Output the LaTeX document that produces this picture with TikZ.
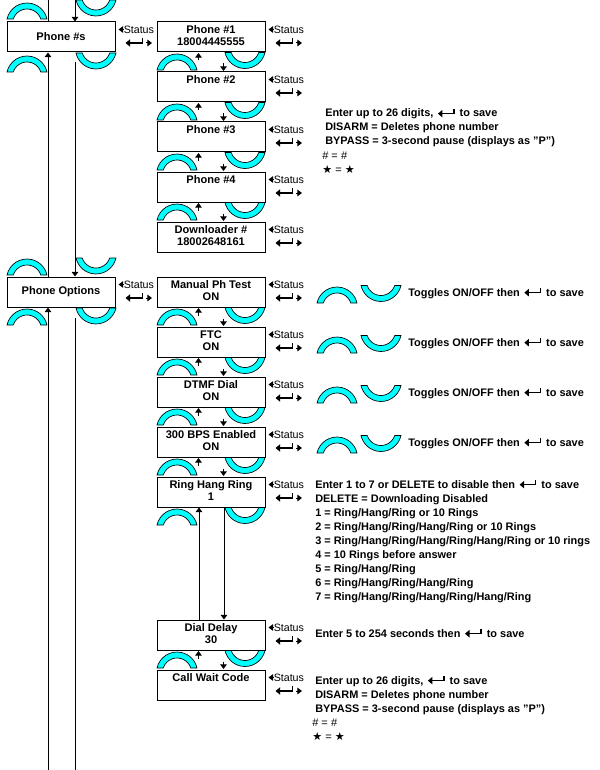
\documentclass[tikz,border=0pt]{standalone}
\usepackage{fontspec}
\setmainfont{Liberation Sans}
\newfontfamily\djv{DejaVu Sans}
\usetikzlibrary{arrows.meta}
\definecolor{arccyan}{HTML}{00FFFF}

\newcommand{\capn}[2]{%
 \filldraw[arcst] (#1-20,#2) arc[start angle=-167.3,end angle=-12.7,radius=20.5] -- (#1+13.8,#2) arc[start angle=-18.1,end angle=-161.9,radius=14.5] -- cycle;}
\newcommand{\capu}[2]{%
 \filldraw[arcst] (#1+20,#2) arc[start angle=12.7,end angle=167.3,radius=20.5] -- (#1-13.8,#2) arc[start angle=161.9,end angle=18.1,radius=14.5] -- cycle;}
\newcommand{\retsym}{\hspace{0.5pt}\tikz[baseline=0pt,x=1pt,y=1pt]\draw[line width=1.2pt,-{Triangle[length=3.4pt,width=5.5pt]}] (12,6) -- (12,2.5) -- (0,2.5);\hspace{1.5pt}}
\newcommand{\stmark}[1]{%
 \draw[tipd] ([shift={(8,8)}]#1.north east) -- ([shift={(3,8)}]#1.north east);
 \node[stat] (#1st) at ([shift={(8,8)}]#1.north east) {Status};
 \draw[rtip] ([shift={(27,16.5)}]#1.north east) -- ([shift={(27,21.5)}]#1.north east) -- ([shift={(10,21.5)}]#1.north east);
 \draw[tipd] ([shift={(30.5,21.5)}]#1.north east) -- ([shift={(36.5,21.5)}]#1.north east);}

\tikzset{
 box/.style={draw,line width=0.75pt,minimum width=81pt,minimum height=22.5pt,inner sep=0pt,align=center,font=\fontsize{8.3}{9}\selectfont\bfseries},
 arcst/.style={fill=arccyan,draw=black,line width=0.5pt},
 vline/.style={line width=0.75pt},
 tipd/.style={line width=0.75pt,-{Triangle[length=3.5pt,width=5pt]}},
 rtip/.style={line width=1.2pt,-{Triangle[length=3.5pt,width=5.5pt]}},
 stat/.style={font=\fontsize{8}{9}\selectfont,inner sep=0pt,anchor=west},
 desc/.style={font=\fontsize{8.2}{9}\selectfont\bfseries,inner sep=0pt,anchor=base west},
 descn/.style={font=\fontsize{8.3}{9}\selectfont,inner sep=0pt,anchor=base west},
}

\begin{document}
\begin{tikzpicture}[x=0.75pt,y=-0.75pt]
\fill[white] (0,0) rectangle (599,770);
\useasboundingbox (0,0) rectangle (599,770);

% left column boxes
\node[box] (PS) at (61,37) {Phone \#s};
\node[box] (PO) at (61,292) {Phone Options};

% right column boxes
\node[box] (P1) at (211,37) {Phone \#1\strut\\18004445555\strut};
\node[box] (P2) at (211,87) {Phone \#2\strut\\\strut};
\node[box] (P3) at (211,137) {Phone \#3\strut\\\strut};
\node[box] (P4) at (211,187) {Phone \#4\strut\\\strut};
\node[box] (DL) at (211,237) {Downloader \#\strut\\18002648161\strut};
\node[box] (MPT) at (211,292) {Manual Ph Test\strut\\ON\strut};
\node[box] (FTC) at (211,342) {FTC\strut\\ON\strut};
\node[box] (DTMF) at (211,392) {DTMF Dial\strut\\ON\strut};
\node[box] (BPS) at (211,442) {300 BPS Enabled\strut\\ON\strut};
\node[box] (RHR) at (211,492) {Ring Hang Ring\strut\\1\strut};
\node[box] (DD) at (211,635) {Dial Delay\strut\\30\strut};
\node[box] (CWC) at (211,685) {Call Wait Code\strut\\\strut};

% left column arcs
\capn{27}{19}\capu{96}{0}
\capn{27}{72}\capu{96}{53}
\capn{27}{275}\capu{96}{258}
\capn{27}{325}\capu{96}{308}

% right column arcs
\foreach \b in {52,102,152,202,307,357,407,457,507,650} {\capn{177}{\b+18}\capu{245}{\b+0.5}}

% long lines
\coordinate (LT) at (48,0);
\coordinate (LB) at (48,770);
\coordinate (RT) at (75,0);
\coordinate (RM) at (75,62);
\coordinate (RN) at (75,318);
\coordinate (RB) at (75,770);
\draw[vline] (LT) -- (LT |- PS.north);
\draw[tipd] (LT |- PO.north) -- (LT |- PS.south);
\draw[tipd] (LB) -- (LB |- PO.south);
\draw[tipd] (RT) -- (RT |- PS.north);
\draw[tipd] (RM) -- (RM |- PO.north);
\draw[vline] (RN) -- (RB);

% small arrows between right boxes
\foreach \a/\c in {P1/P2,P2/P3,P3/P4,P4/DL,MPT/FTC,FTC/DTMF,DTMF/BPS,BPS/RHR,DD/CWC} {
 \draw[tipd] ([shift={(42,8)}]\a.south west) -- ([shift={(42,0.5)}]\a.south west);
 \draw[tipd] ([shift={(67,-8)}]\c.north west) -- ([shift={(67,-0.5)}]\c.north west);
}
\coordinate (CU) at (199,0);
\coordinate (CD) at (224,0);
\draw[tipd] (CU |- DD.north) -- (CU |- RHR.south);
\draw[tipd] (CD |- RHR.south) -- (CD |- DD.north);

% status marks
\foreach \n in {PS,PO,P1,P2,P3,P4,DL,MPT,FTC,DTMF,BPS,RHR,DD,CWC} {\stmark{\n}}

% phone description
\node[desc] (ph1) at (325,117) {Enter up to 26 digits, \retsym{} to save};
\node[desc] (ph2) at (325,131) {DISARM = Deletes phone number};
\node[desc] (ph3) at (325,145) {BYPASS = 3-second pause (displays as "P")};
\node[descn] (ph4) at (322,159) {\# = \#};
\node[descn] (ph5) at (322,173) {{\djv\bfseries ★} = {\djv\bfseries ★}};

% toggles
\foreach \t in {277,327,377,427} {
 \capn{337}{\t+26}\capu{381}{\t+8.5}
 \node[desc] (tog\t) at (408,\t+19) {Toggles ON/OFF then \retsym{} to save};
}

% ring hang ring
\node[desc] (rh0) at (315,488) {Enter 1 to 7 or DELETE to disable then \retsym{} to save};
\node[desc] (rh1) at (315,502) {DELETE = Downloading Disabled};
\node[desc] (rh2) at (315,516) {1 = Ring/Hang/Ring or 10 Rings};
\node[desc] (rh3) at (315,530) {2 = Ring/Hang/Ring/Hang/Ring or 10 Rings};
\node[desc] (rh4) at (315,544) {3 = Ring/Hang/Ring/Hang/Ring/Hang/Ring or 10 rings};
\node[desc] (rh5) at (315,558) {4 = 10 Rings before answer};
\node[desc] (rh6) at (315,572) {5 = Ring/Hang/Ring};
\node[desc] (rh7) at (315,586) {6 = Ring/Hang/Ring/Hang/Ring};
\node[desc] (rh8) at (315,600) {7 = Ring/Hang/Ring/Hang/Ring/Hang/Ring};

% dial delay
\node[desc] (dd1) at (315,637) {Enter 5 to 254 seconds then \retsym{} to save};

% call wait code
\node[desc] (cw1) at (315,684) {Enter up to 26 digits, \retsym{} to save};
\node[desc] (cw2) at (315,698) {DISARM = Deletes phone number};
\node[desc] (cw3) at (315,712) {BYPASS = 3-second pause (displays as "P")};
\node[descn] (cw4) at (312,726) {\# = \#};
\node[descn] (cw5) at (312,740) {{\djv\bfseries ★} = {\djv\bfseries ★}};
\end{tikzpicture}
\end{document}
